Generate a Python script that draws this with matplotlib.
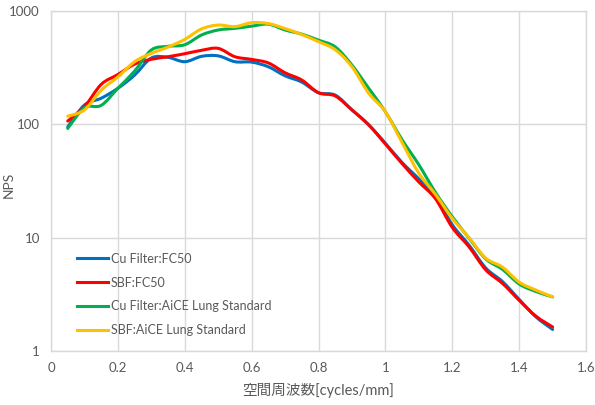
import numpy as np
import matplotlib
matplotlib.use('Agg')
import matplotlib.pyplot as plt
from matplotlib.path import Path
from matplotlib.patches import PathPatch
from matplotlib.lines import Line2D

plt.rcParams['font.family'] = ['Lato', 'Noto Sans CJK JP', 'DejaVu Sans']

# spatial frequency [cycles/mm]
freq = [0.05, 0.10, 0.15, 0.20, 0.25, 0.30, 0.35, 0.40, 0.45, 0.50,
        0.55, 0.60, 0.65, 0.70, 0.75, 0.80, 0.85, 0.90, 0.95, 1.00,
        1.05, 1.10, 1.15, 1.20, 1.25, 1.30, 1.35, 1.40, 1.45, 1.50]

cu_fc50 = [95, 148, 170, 208, 272, 385, 390, 357, 398, 402,
           357, 354, 322, 268, 236, 190, 181, 134, 99, 68,
           46, 33, 23, 13, 8.6, 5.4, 4.1, 2.85, 2.0, 1.55]
sbf_fc50 = [107, 143, 225, 275, 340, 375, 395, 420, 450, 468,
            395, 374, 348, 285, 246, 190, 178, 134, 99, 67,
            45, 31, 22, 12.3, 8.3, 5.2, 3.95, 2.8, 2.03, 1.63]
cu_aice = [92, 140, 147, 208, 295, 453, 488, 504, 614, 680,
           703, 735, 765, 680, 625, 553, 482, 333, 208, 129,
           73, 44, 25, 15.3, 9.9, 6.5, 5.25, 3.9, 3.35, 3.0]
sbf_aice = [118, 134, 200, 262, 357, 423, 481, 562, 695, 752,
            728, 789, 775, 700, 620, 536, 455, 322, 188, 129,
            69, 37, 24, 14.8, 10, 6.6, 5.5, 4.05, 3.45, 3.0]

labels = ['Cu Filter:FC50', 'SBF:FC50',
          'Cu Filter:AiCE Lung Standard', 'SBF:AiCE Lung Standard']
colors = ['#0070C0', '#FF0000', '#00B050', '#FFC000']


def smooth_path(xs, ys):
    # Excel-like smoothed line: cubic bezier segments through the points
    # (control points built in log space, since the y axis is log)
    x = np.asarray(xs, float)
    ly = np.log10(np.asarray(ys, float))
    p = np.column_stack([x, ly])
    p_ext = np.vstack([p[0], p, p[-1]])
    verts = [p[0]]
    codes = [Path.MOVETO]
    for i in range(len(p) - 1):
        p0, p1, p2, p3 = p_ext[i], p_ext[i + 1], p_ext[i + 2], p_ext[i + 3]
        c1 = p1 + (p2 - p0) / 6.0
        c2 = p2 - (p3 - p1) / 6.0
        verts += [c1, c2, p2]
        codes += [Path.CURVE4] * 3
    verts = np.array(verts)
    verts[:, 1] = 10 ** verts[:, 1]
    return Path(verts, codes)


fig = plt.figure(figsize=(5.95, 4.05), dpi=100)
ax = fig.add_axes([0.0857, 0.1333, 0.8993, 0.8395])

handles = []
for ys, lab, c in zip([cu_fc50, sbf_fc50, cu_aice, sbf_aice], labels, colors):
    ax.add_patch(PathPatch(smooth_path(freq, ys), fill=False, edgecolor=c,
                           lw=2.2, capstyle='round', joinstyle='round'))
    handles.append(Line2D([], [], color=c, lw=2.2, label=lab))

ax.set_yscale('log')
ax.set_xlim(0, 1.6)
ax.set_ylim(1, 1000)
ax.set_xticks(np.arange(0, 1.61, 0.2))
ax.set_xticklabels(['0', '0.2', '0.4', '0.6', '0.8', '1', '1.2', '1.4', '1.6'])
ax.set_yticks([1, 10, 100, 1000])
ax.set_yticklabels(['1', '10', '100', '1000'])
ax.minorticks_off()
ax.grid(True, color='#D9D9D9', lw=1)
ax.set_axisbelow(True)
for s in ax.spines.values():
    s.set_color('#D9D9D9')
    s.set_linewidth(1)
ax.tick_params(length=0, colors='#595959', labelsize=9.5, pad=8)

ax.set_xlabel('空間周波数[cycles/mm]', color='#595959', fontsize=10.5, labelpad=6)
ax.set_ylabel('NPS', color='#595959', fontsize=10)
ax.yaxis.set_label_coords(-0.067, 0.49)

ax.legend(handles=handles, loc='lower left', bbox_to_anchor=(0.027, 0.01),
          frameon=False, fontsize=9, handlelength=2.5, handletextpad=0.25,
          labelspacing=0.95, labelcolor='#595959')

fig.savefig('out.png', dpi=100)
